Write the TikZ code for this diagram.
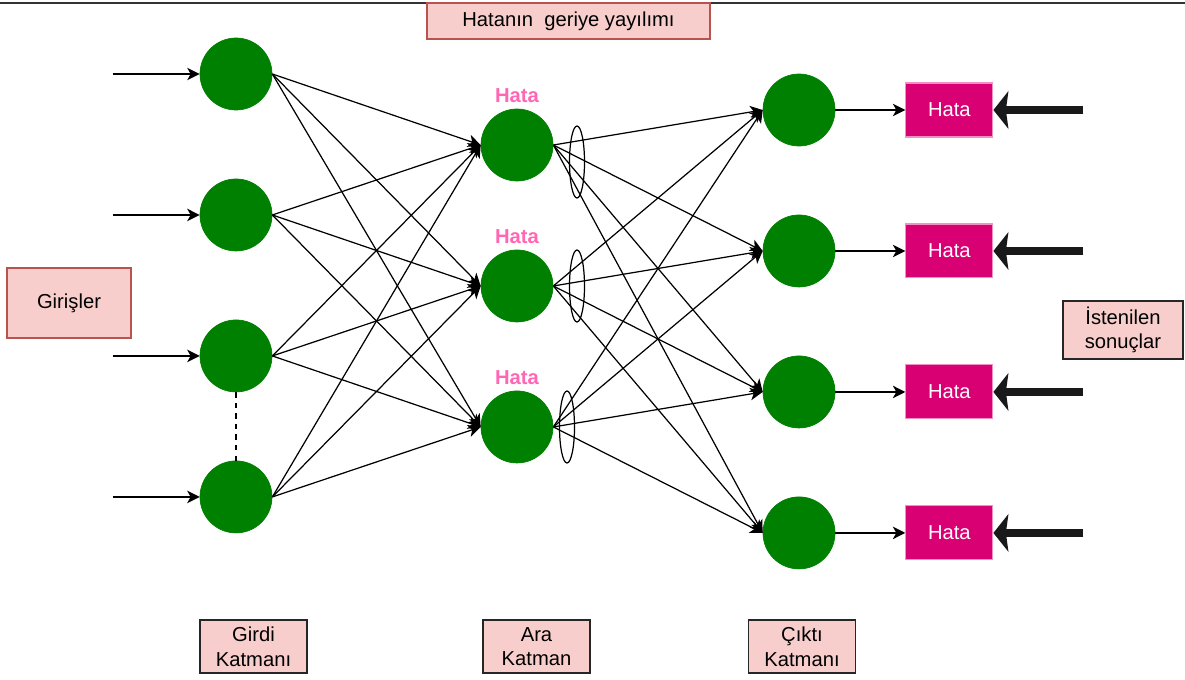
\documentclass[tikz,border=0pt]{standalone}
\usepackage{fontspec}
\setmainfont{Liberation Sans}
\usetikzlibrary{positioning}
\usetikzlibrary{arrows.meta}
\usetikzlibrary{shapes}

\definecolor{notefill}{HTML}{F8CECC}
\definecolor{notedraw}{HTML}{B85450}
\definecolor{cellgreen}{HTML}{008000}
\definecolor{errfill}{HTML}{D80073}
\definecolor{errdraw}{HTML}{F48FC1}
\definecolor{errtext}{HTML}{FF66B3}

\begin{document}
\begin{tikzpicture}[x=0.02cm, y=-0.02cm, node distance=2.82cm,
  font=\fontsize{11.5}{14}\selectfont,
  cell/.style={circle, fill=cellgreen, draw=cellgreen, minimum size=1.44cm, inner sep=0pt},
  note/.style={rectangle, fill=notefill, draw=notedraw, line width=0.8pt, align=center},
  layer/.style={rectangle, fill=notefill, draw=black!85, line width=0.8pt, align=center,
    minimum width=2.14cm, minimum height=1.06cm},
  errbox/.style={rectangle, fill=errfill, draw=errdraw, line width=0.6pt, text=white,
    minimum width=1.74cm, minimum height=1.08cm},
  errlabel/.style={text=errtext, font=\fontsize{11.5}{14}\selectfont\bfseries},
  ring/.style={ellipse, draw=black, line width=0.7pt, minimum width=0.3cm, minimum height=1.44cm, inner sep=0pt},
  wire/.style={-{Stealth[length=0.25cm, width=0.25cm, inset=0.07cm]}, line width=0.7pt},
  push/.style={-{Stealth[length=0.3cm, width=0.75cm, inset=0.05cm]}, line width=4.5pt, black!90}]
  \useasboundingbox (0,0) rectangle (1185,679);

  \coordinate (topl) at (0,3);
  \coordinate (topr) at (1185,3);
  \draw[line width=1.6pt, black!80] (topl) -- (topr);

  % input layer
  \node[cell] (in1) at (236,74) {};
  \node[cell, below of=in1] (in2) {};
  \node[cell, below of=in2] (in3) {};
  \node[cell, below of=in3] (in4) {};

  % hidden layer
  \node[cell] (hid1) at (517,145) {};
  \node[cell, below of=hid1] (hid2) {};
  \node[cell, below of=hid2] (hid3) {};

  % output layer
  \node[cell] (out1) at (799,110) {};
  \node[cell, below of=out1] (out2) {};
  \node[cell, below of=out2] (out3) {};
  \node[cell, below of=out3] (out4) {};

  \foreach \i in {1,2,3}
    \node[errlabel, above=0pt of hid\i] (lab\i) {Hata};

  \foreach \i in {1,...,4}
    \node[errbox, right=1.4cm of out\i] (err\i) {Hata};

  \node[ring] (ring1) at (577,162) {};
  \node[ring] (ring2) at (577,286) {};
  \node[ring] (ring3) at (567,427) {};

  \node[note, minimum width=5.66cm, minimum height=0.72cm] (title) at (568.5,21) {Hatanın\ \ geriye yayılımı};
  \node[note, minimum width=2.48cm, minimum height=1.4cm] (inputs) at (69,303) {Girişler};
  \node[note, draw=black!85, minimum width=2.4cm, minimum height=1.08cm] (targets) at (1123,330) {İstenilen\\sonuçlar};

  \node[layer] (inlayer) at (253.5,646.5) {Girdi\\Katmanı};
  \node[layer] (hidlayer) at (536.5,646.5) {Ara\\Katman};
  \node[layer] (outlayer) at (802,646.5) {Çıktı\\Katmanı};

  \foreach \i in {1,...,4}
    \draw[wire] ([xshift=-1.74cm]in\i.west) -- (in\i.west);

  \foreach \i in {1,...,4}
    \foreach \j in {1,2,3}
      \draw[wire] (in\i.east) -- (hid\j.west);

  \foreach \i in {1,2,3}
    \foreach \j in {1,...,4}
      \draw[wire] (hid\i.east) -- (out\j.west);

  \foreach \i in {1,...,4}
    \draw[wire] (out\i) -- (err\i);

  \foreach \i in {1,...,4}
    \draw[push] ([xshift=1.8cm]err\i.east) -- (err\i.east);

  \draw[dashed, line width=0.7pt] (in3) -- (in4);
\end{tikzpicture}
\end{document}
